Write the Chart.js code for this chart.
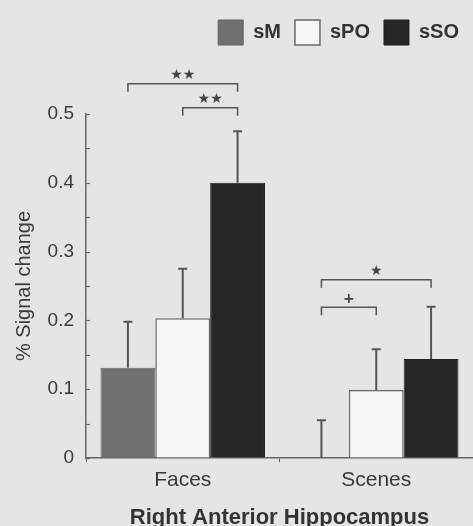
<!DOCTYPE html>
<html lang="en">
<head>
  <meta charset="UTF-8" />
  <title>Right Anterior Hippocampus</title>
  <script src="https://cdn.jsdelivr.net/npm/chart.js"></script>
  <style>
    body {
      margin: 0;
      background: #e5e5e5;
    }
    #wrap {
      width: 473px;
      height: 526px;
    }
  </style>
</head>
<body>
  <div id="wrap"><canvas id="hippoChart" width="473" height="526"></canvas></div>

  <script>
    const categories = ['Faces', 'Scenes'];
    const seriesNames = ['sM', 'sPO', 'sSO'];
    const sMValues = [0.131, 0.0];
    const sPOValues = [0.203, 0.099];
    const sSOValues = [0.400, 0.144];
    const sMErrors = [0.067, 0.055];
    const sPOErrors = [0.072, 0.059];
    const sSOErrors = [0.075, 0.076];
    const yTickLabels = ['0', '0.1', '0.2', '0.3', '0.4', '0.5'];

    // significance brackets: category, first bar, last bar, height, mark
    const bracketCategory = [0, 0, 1, 1];
    const bracketFrom = [0, 1, 0, 0];
    const bracketTo = [2, 2, 2, 1];
    const bracketLevel = [0.544, 0.509, 0.259, 0.219];
    const bracketMark = ['★★', '★★', '★', '+'];

    const allValues = [sMValues, sPOValues, sSOValues];
    const allErrors = [sMErrors, sPOErrors, sSOErrors];
    const textColor = '#3a3a3a';
    const lineColor = '#666';

    const background = {
      id: 'background',
      beforeDraw(chart) {
        const c = chart.ctx;
        c.save();
        c.fillStyle = '#e5e5e5';
        c.fillRect(0, 0, chart.width, chart.height);
        c.restore();
      }
    };

    const legendSpace = {
      id: 'legendSpace',
      beforeInit(chart) {
        const origFit = chart.legend.fit;
        chart.legend.fit = function fit() {
          origFit.bind(chart.legend)();
          this.height = 108;
        };
      }
    };

    // only the upper half of the error bar is shown
    const errorBars = {
      id: 'errorBars',
      afterDatasetsDraw(chart) {
        const c = chart.ctx;
        const y = chart.scales.y;
        c.save();
        c.strokeStyle = '#555';
        c.lineWidth = 2;
        allValues.forEach((vals, d) => {
          chart.getDatasetMeta(d).data.forEach((bar, i) => {
            const top = y.getPixelForValue(vals[i] + allErrors[d][i]);
            c.beginPath();
            c.moveTo(bar.x, bar.y);
            c.lineTo(bar.x, top);
            c.moveTo(bar.x - 4.5, top);
            c.lineTo(bar.x + 4.5, top);
            c.stroke();
          });
        });
        c.restore();
      }
    };

    const brackets = {
      id: 'brackets',
      afterDatasetsDraw(chart) {
        const c = chart.ctx;
        const y = chart.scales.y;
        c.save();
        c.strokeStyle = '#555';
        c.lineWidth = 1.5;
        c.fillStyle = '#444';
        c.textAlign = 'center';
        c.textBaseline = 'middle';
        c.font = 'bold 14px "DejaVu Sans"';
        bracketLevel.forEach((level, k) => {
          const x1 = chart.getDatasetMeta(bracketFrom[k]).data[bracketCategory[k]].x;
          const x2 = chart.getDatasetMeta(bracketTo[k]).data[bracketCategory[k]].x;
          const yy = y.getPixelForValue(level);
          c.beginPath();
          c.moveTo(x1, yy + 8);
          c.lineTo(x1, yy);
          c.lineTo(x2, yy);
          c.lineTo(x2, yy + 8);
          c.stroke();
          c.fillText(bracketMark[k], (x1 + x2) / 2, yy - 8);
        });
        c.restore();
      }
    };

    // small tick marks pointing into the plot
    const innerTicks = {
      id: 'innerTicks',
      afterDraw(chart) {
        const c = chart.ctx;
        const y = chart.scales.y;
        const left = chart.chartArea.left;
        c.save();
        c.strokeStyle = lineColor;
        c.lineWidth = 1.2;
        y.ticks.forEach(t => {
          const py = Math.round(y.getPixelForValue(t.value)) + 0.5;
          c.beginPath();
          c.moveTo(left, py);
          c.lineTo(left + 4, py);
          c.stroke();
        });
        c.restore();
      }
    };

    const ctx = document.getElementById('hippoChart').getContext('2d');
    new Chart(ctx, {
      type: 'bar',
      data: {
        labels: categories,
        datasets: [
          {
            label: seriesNames[0],
            data: sMValues,
            backgroundColor: '#707070',
            borderColor: '#626262',
            borderWidth: 1
          },
          {
            label: seriesNames[1],
            data: sPOValues,
            backgroundColor: '#f6f6f6',
            borderColor: '#6a6a6a',
            borderWidth: 1.5
          },
          {
            label: seriesNames[2],
            data: sSOValues,
            backgroundColor: '#262626',
            borderColor: '#202020',
            borderWidth: 1
          }
        ]
      },
      options: {
        responsive: false,
        animation: false,
        layout: { padding: { top: 6, left: 0, right: 0, bottom: 0 } },
        datasets: {
          bar: { categoryPercentage: 0.85, barPercentage: 1.0 }
        },
        plugins: {
          legend: {
            position: 'top',
            align: 'end',
            labels: {
              boxWidth: 25,
              boxHeight: 25,
              padding: 14,
              color: '#333',
              font: { family: 'Liberation Sans', size: 20, weight: 'bold' }
            }
          },
          tooltip: { enabled: false }
        },
        scales: {
          x: {
            afterFit: s => { s.height = 68; },
            grid: { drawOnChartArea: false, tickLength: 4, color: lineColor },
            border: { color: lineColor, width: 1.5 },
            ticks: {
              color: textColor,
              padding: 6,
              font: { family: 'Liberation Sans', size: 21 }
            },
            title: {
              display: true,
              text: 'Right Anterior Hippocampus',
              color: '#333',
              padding: { top: 0, bottom: 0 },
              font: { family: 'Liberation Sans', size: 22, weight: 'bold', lineHeight: 0.7 }
            }
          },
          y: {
            min: 0,
            max: 0.5,
            afterFit: s => { s.width = 86; },
            grid: { drawOnChartArea: false, drawTicks: false },
            border: { color: lineColor, width: 1.5 },
            ticks: {
              stepSize: 0.05,
              padding: 12,
              color: textColor,
              font: { family: 'Liberation Sans', size: 19 },
              callback: v => {
                const k = Math.round(v * 100);
                return k % 10 === 0 ? yTickLabels[k / 10] : '';
              }
            },
            title: {
              display: true,
              text: '% Signal change',
              color: textColor,
              padding: { top: 12, bottom: 0 },
              font: { family: 'Liberation Sans', size: 20 }
            }
          }
        }
      },
      plugins: [background, legendSpace, errorBars, brackets, innerTicks]
    });
  </script>
</body>
</html>
